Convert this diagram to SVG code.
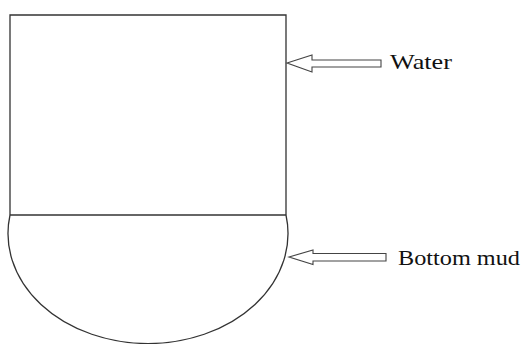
<svg xmlns="http://www.w3.org/2000/svg" width="526" height="344" viewBox="0 0 526 344">
<style>
.ln{fill:none;stroke:#333;stroke-width:1.3}
.ar{fill:#fff;stroke:#444;stroke-width:1.1;stroke-linejoin:miter}
.lb{font-family:"Liberation Serif","Times New Roman",serif;font-size:21px;fill:#111}
</style>
<rect width="526" height="344" fill="#fff"/>
<g id="water">
<path class="ln" d="M10,215 L10,15 L286,15 L286,215"/>
</g>
<g id="mud">
<path class="ln" d="M10,215 L286,215"/>
<path class="ln" d="M10,215 A140,110 0 1 0 286,215"/>
</g>
<g id="connectors">
<polygon class="ar" points="287,63 312,55 312,60 381,60 381,67 312,67 312,72"/>
<polygon class="ar" points="289,257 313,250 313,253.5 386,253.5 386,261 313,261 313,264.5"/>
</g>
<g id="label-water">
<text class="lb" x="390" y="69" textLength="62" lengthAdjust="spacingAndGlyphs">Water</text>
</g>
<g id="label-mud">
<text class="lb" x="398" y="265" textLength="122" lengthAdjust="spacingAndGlyphs">Bottom mud</text>
</g>
</svg>
